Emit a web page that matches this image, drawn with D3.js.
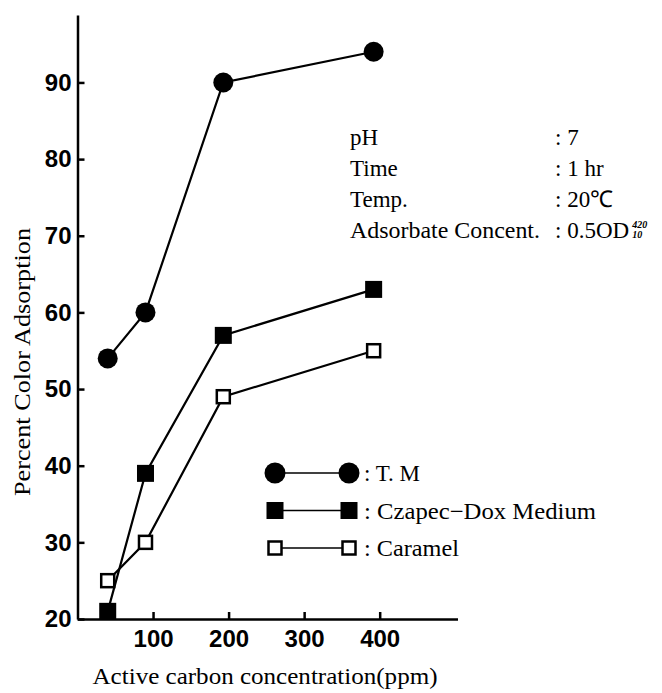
<!DOCTYPE html>
<html>
<head>
<meta charset="utf-8">
<script src="https://cdnjs.cloudflare.com/ajax/libs/d3/7.8.5/d3.min.js"></script>
<style>
  body { margin: 0; background: #fff; }
  svg { display: block; }
  .serif { font-family: "Liberation Serif", "Times New Roman", serif; fill: #000; }
  .tick text { font-family: "Liberation Sans", Arial, sans-serif; font-weight: bold; font-size: 24px; fill: #000; }
  .tick line, .domain { stroke: #000; stroke-width: 2.5; }
</style>
</head>
<body>
<svg id="chart" width="662" height="693"></svg>
<script>
// data
const concentrations = [40, 90, 193, 392];
const tmValues = [54, 60, 90, 94];
const czapecValues = [21, 39, 57, 63];
const caramelValues = [25, 30, 49, 55];
const yTicks = [20, 30, 40, 50, 60, 70, 80, 90];
const xTicks = [100, 200, 300, 400];
const conditionLabels = ["pH", "Time", "Temp.", "Adsorbate Concent."];
const conditionValues = [": 7", ": 1 hr", ": 20\u2103", ": 0.5OD"];
const legendLabels = [": T. M", ": Czapec\u2212Dox Medium", ": Caramel"];

const svg = d3.select("#chart");

const x = d3.scaleLinear().domain([0, 503]).range([77.5, 457.5]);
const y = d3.scaleLinear().domain([20, 98.8]).range([619, 15]);

// axes, ticks point inwards
svg.append("g")
  .attr("transform", "translate(77.5,0)")
  .call(d3.axisLeft(y).tickValues(yTicks).tickSize(-7).tickSizeOuter(0).tickPadding(6));

svg.append("g")
  .attr("transform", "translate(0,619)")
  .call(d3.axisBottom(x).tickValues(xTicks).tickSize(-7).tickSizeOuter(0).tickPadding(11));

// axis titles
svg.append("text")
  .attr("class", "serif")
  .attr("x", 265)
  .attr("y", 684)
  .attr("text-anchor", "middle")
  .attr("font-size", 24)
  .attr("textLength", 345)
  .attr("lengthAdjust", "spacingAndGlyphs")
  .text("Active carbon concentration(ppm)");

svg.append("text")
  .attr("class", "serif")
  .attr("transform", "translate(30,362) rotate(-90)")
  .attr("text-anchor", "middle")
  .attr("font-size", 24)
  .attr("textLength", 268)
  .attr("lengthAdjust", "spacingAndGlyphs")
  .text("Percent Color Adsorption");

// series
const series = [
  { name: "tm", values: tmValues, marker: "circle" },
  { name: "czapec", values: czapecValues, marker: "filled" },
  { name: "caramel", values: caramelValues, marker: "open" }
];

const line = d3.line()
  .x(d => x(d[0]))
  .y(d => y(d[1]));

function drawMarker(g, type, cx, cy, big) {
  if (type === "circle") {
    g.append("circle").attr("cx", cx).attr("cy", cy).attr("r", big ? 10 : 10.5).attr("fill", "#000");
  } else if (type === "filled") {
    const s = 17;
    g.append("rect").attr("x", cx - s / 2).attr("y", cy - s / 2).attr("width", s).attr("height", s).attr("fill", "#000");
  } else {
    const s = 13;
    g.append("rect").attr("x", cx - s / 2).attr("y", cy - s / 2).attr("width", s).attr("height", s)
      .attr("fill", "#fff").attr("stroke", "#000").attr("stroke-width", 2.5);
  }
}

series.forEach(s => {
  const pts = concentrations.map((c, i) => [c, s.values[i]]);
  svg.append("path")
    .attr("d", line(pts))
    .attr("fill", "none")
    .attr("stroke", "#000")
    .attr("stroke-width", 2.2);
});

series.forEach(s => {
  const g = svg.append("g");
  concentrations.forEach((c, i) => drawMarker(g, s.marker, x(c), y(s.values[i]), true));
});

// experimental conditions
const cond = svg.append("g").attr("class", "serif").attr("font-size", 23);
conditionLabels.forEach((t, i) => {
  const lbl = cond.append("text").attr("x", 350).attr("y", 145 + i * 31).text(t);
  if (i === 3) lbl.attr("textLength", 190).attr("lengthAdjust", "spacingAndGlyphs");
  const v = cond.append("text").attr("x", 555).attr("y", 145 + i * 31).text(conditionValues[i]);
  if (i === 3) {
    const w = v.node().getComputedTextLength();
    cond.append("text").attr("x", 558 + w).attr("y", 228).attr("font-size", 10)
      .attr("font-style", "italic").attr("font-weight", "bold").text("420");
    cond.append("text").attr("x", 558 + w).attr("y", 238).attr("font-size", 10)
      .attr("font-style", "italic").attr("font-weight", "bold").text("10");
  }
});

// legend
const legend = svg.append("g");
const legendWidths = [null, 232, 95];
series.forEach((s, i) => {
  const ly = 473 + i * 37.5;
  legend.append("line")
    .attr("x1", 275).attr("x2", 349).attr("y1", ly).attr("y2", ly)
    .attr("stroke", "#000").attr("stroke-width", 1.6);
  drawMarker(legend, s.marker, 275, ly, false);
  drawMarker(legend, s.marker, 349, ly, false);
  const t = legend.append("text")
    .attr("class", "serif")
    .attr("x", 364)
    .attr("y", ly + 8)
    .attr("font-size", 23)
    .text(legendLabels[i]);
  if (legendWidths[i]) t.attr("textLength", legendWidths[i]).attr("lengthAdjust", "spacingAndGlyphs");
});
</script>
</body>
</html>
